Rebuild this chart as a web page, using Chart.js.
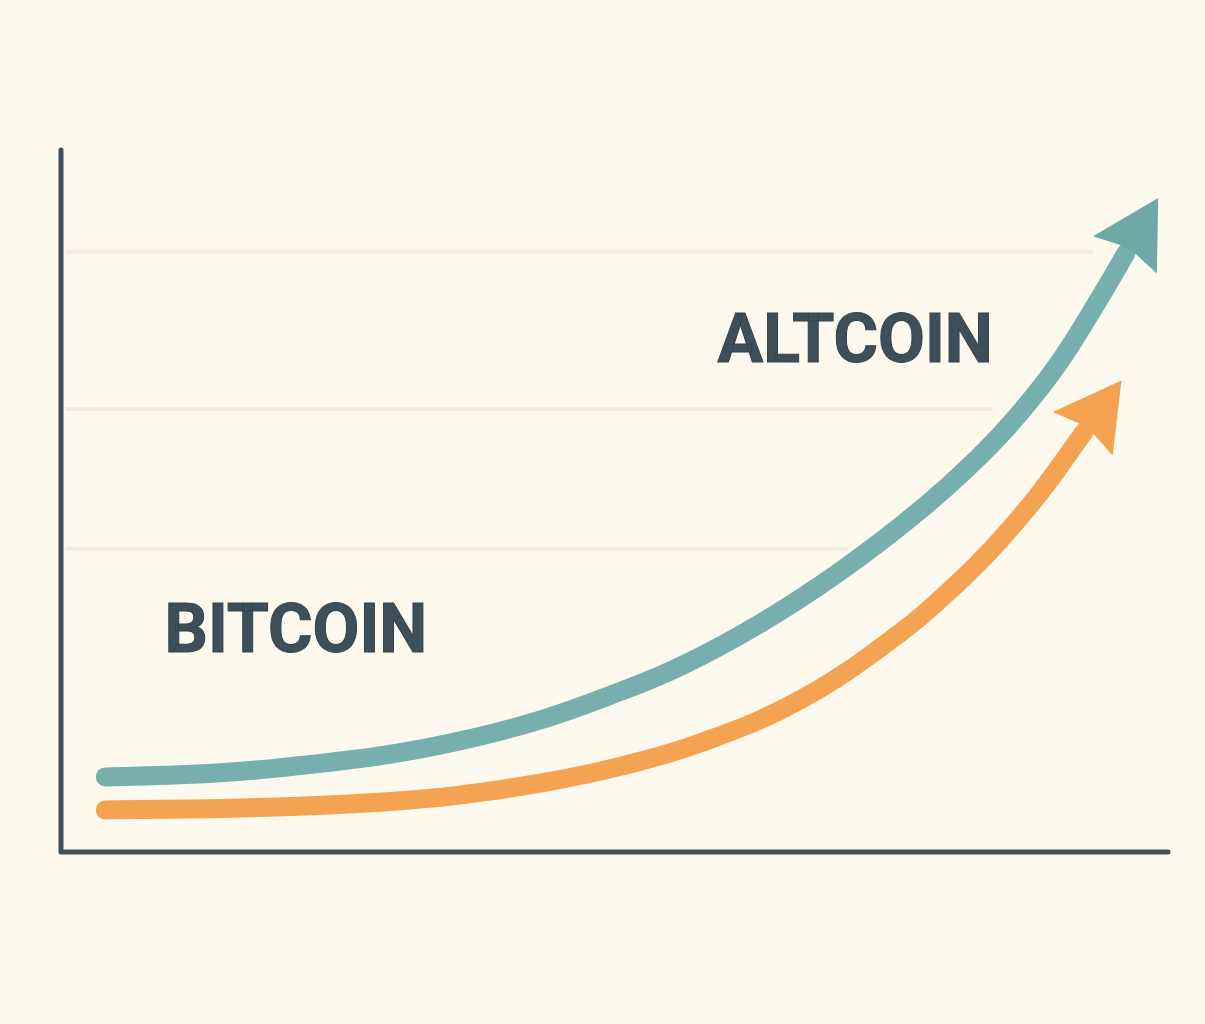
<!DOCTYPE html>
<html>
<head>
<meta charset="utf-8">
<script src="https://cdn.jsdelivr.net/npm/chart.js@4.4.1/dist/chart.umd.min.js"></script>
<style>
    html, body { margin: 0; padding: 0; background: #fef9ef; }
    #wrap { width: 1205px; height: 1024px; }
</style>
</head>
<body>
<div id="wrap"><canvas id="mainChart" width="1205" height="1024"></canvas></div>
<script>
// time axis (0-100) and value axis (0-100)
const altcoinX = [4.0, 10.7, 17.1, 28.8, 36.0, 43.3, 49.6, 55.9, 63.1, 70.4, 77.6, 83.0, 86.6, 90.2, 93.9, 96.2];
const altcoinY = [10.7, 11.0, 11.6, 13.7, 15.8, 18.8, 22.3, 26.4, 32.5, 40.0, 48.7, 56.4, 62.5, 69.8, 79.1, 85.3];

const bitcoinX = [4.0, 17.1, 28.8, 36.0, 43.3, 50.5, 57.7, 66.8, 75.8, 81.2, 84.8, 88.4, 92.4];
const bitcoinY = [6.0, 6.3, 7.1, 8.1, 9.8, 12.2, 15.5, 21.7, 31.2, 38.6, 44.4, 51.1, 59.8];

// faint guide lines: level and where each one stops
const gridLevels = [43.2, 63.1, 85.5];
const gridStops = [71.1, 84.1, 93.2];

const seriesNames = ['ALTCOIN', 'BITCOIN'];

const colors = {
    bg: '#fef9ef',
    axis: '#3e515b',
    grid: '#f3eadd',
    text: '#3e4f59',
    altcoin: '#77afae',
    altcoinHead: '#6ea8a7',
    bitcoin: '#f4a352',
    bitcoinHead: '#f4a150'
};

function toPoints(xs, ys) {
    return xs.map((x, i) => ({ x: x, y: ys[i] }));
}

const backgroundPlugin = {
    id: 'bg',
    beforeDraw(chart) {
        const ctx = chart.ctx;
        ctx.save();
        ctx.fillStyle = colors.bg;
        ctx.fillRect(0, 0, chart.width, chart.height);

        const xs = chart.scales.x;
        const ys = chart.scales.y;

        // guide lines
        ctx.strokeStyle = colors.grid;
        ctx.lineWidth = 4;
        gridLevels.forEach((lvl, i) => {
            const py = ys.getPixelForValue(lvl);
            ctx.beginPath();
            ctx.moveTo(xs.getPixelForValue(0) + 4, py);
            ctx.lineTo(xs.getPixelForValue(gridStops[i]), py);
            ctx.stroke();
        });

        // axes
        ctx.strokeStyle = colors.axis;
        ctx.lineWidth = 5;
        ctx.lineCap = 'round';
        ctx.lineJoin = 'round';
        ctx.beginPath();
        ctx.moveTo(xs.getPixelForValue(0), ys.getPixelForValue(100));
        ctx.lineTo(xs.getPixelForValue(0), ys.getPixelForValue(0));
        ctx.lineTo(xs.getPixelForValue(100), ys.getPixelForValue(0));
        ctx.stroke();
        ctx.restore();
    }
};

// arrow heads at the end of each curve
const arrowPlugin = {
    id: 'arrows',
    afterDatasetsDraw(chart) {
        const ctx = chart.ctx;
        ctx.save();
        chart.data.datasets.forEach((ds, i) => {
            const pts = chart.getDatasetMeta(i).data;
            const last = pts[pts.length - 1];
            const prev = pts[pts.length - 2];
            let dx = last.x - (last.cp1x ?? prev.x);
            let dy = last.y - (last.cp1y ?? prev.y);
            if (Math.abs(dx) + Math.abs(dy) < 0.01) {
                dx = last.x - prev.x;
                dy = last.y - prev.y;
            }
            const len = Math.hypot(dx, dy);
            const d = { x: dx / len, y: dy / len };
            const n = { x: -d.y, y: d.x };

            const at = (f, s) => [last.x + d.x * f + n.x * s, last.y + d.y * f + n.y * s];

            ctx.fillStyle = ds.headColor;
            ctx.beginPath();
            ctx.moveTo(...at(64, 0));
            ctx.lineTo(...at(-2, 37));
            ctx.lineTo(...at(4, 10));
            ctx.lineTo(...at(4, -10));
            ctx.lineTo(...at(-2, -37));
            ctx.closePath();
            ctx.fill();
        });
        ctx.restore();
    }
};

const labelPlugin = {
    id: 'labels',
    afterDraw(chart) {
        const ctx = chart.ctx;
        const xs = chart.scales.x;
        const ys = chart.scales.y;
        // label anchors in chart units (left edge, baseline)
        const anchors = [[59.3, 69.8], [9.35, 28.5]];
        ctx.save();
        ctx.font = '700 68px Roboto';
        ctx.fillStyle = colors.text;
        ctx.strokeStyle = '#33434c';
        ctx.lineWidth = 1;
        seriesNames.forEach((name, i) => {
            const px = xs.getPixelForValue(anchors[i][0]);
            const py = ys.getPixelForValue(anchors[i][1]);
            ctx.fillText(name, px, py);
            ctx.strokeText(name, px, py);
        });
        ctx.restore();
    }
};

function initializeChart() {
    const ctx = document.getElementById('mainChart').getContext('2d');

    new Chart(ctx, {
        type: 'line',
        data: {
            datasets: [
                {
                    label: seriesNames[0],
                    data: toPoints(altcoinX, altcoinY),
                    borderColor: colors.altcoin,
                    headColor: colors.altcoinHead,
                    borderWidth: 19,
                    borderCapStyle: 'round',
                    borderJoinStyle: 'round',
                    tension: 0.4,
                    pointRadius: 0,
                    fill: false
                },
                {
                    label: seriesNames[1],
                    data: toPoints(bitcoinX, bitcoinY),
                    borderColor: colors.bitcoin,
                    headColor: colors.bitcoinHead,
                    borderWidth: 19,
                    borderCapStyle: 'round',
                    borderJoinStyle: 'round',
                    tension: 0.4,
                    pointRadius: 0,
                    fill: false
                }
            ]
        },
        options: {
            responsive: false,
            animation: false,
            layout: {
                padding: { left: 61, right: 37, top: 150, bottom: 172 }
            },
            plugins: {
                legend: { display: false },
                tooltip: { enabled: false }
            },
            scales: {
                x: { type: 'linear', min: 0, max: 100, display: false },
                y: { type: 'linear', min: 0, max: 100, display: false }
            }
        },
        plugins: [backgroundPlugin, arrowPlugin, labelPlugin]
    });
}

initializeChart();
</script>
</body>
</html>
